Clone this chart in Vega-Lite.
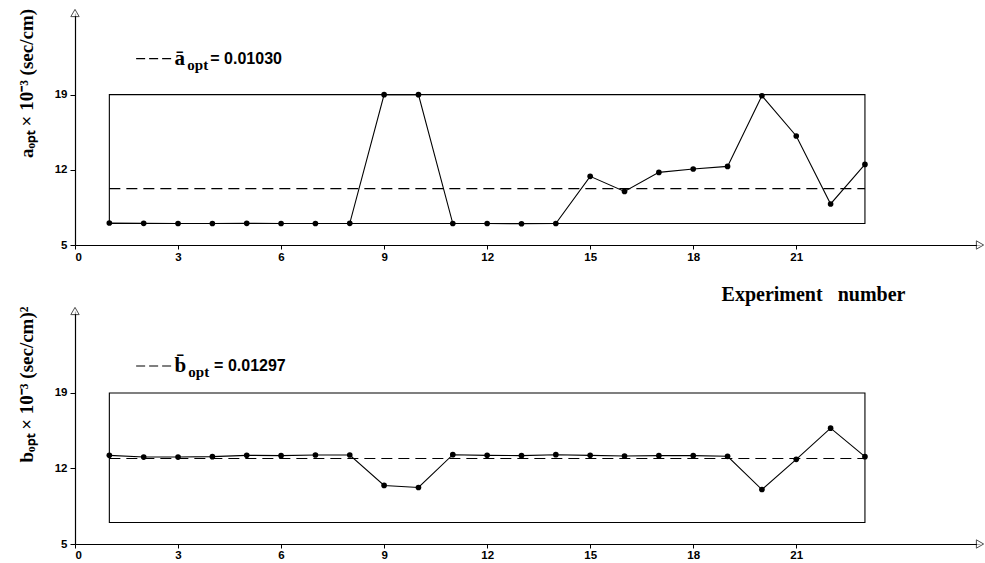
{
  "$schema": "https://vega.github.io/schema/vega-lite/v6.json",
  "background": "white",
  "padding": {"left": 17, "top": 7, "right": 0, "bottom": 0},
  "bounds": "flush",
  "spacing": 66,
  "config": {
    "view": {"stroke": null},
    "axis": {
      "grid": false,
      "domainColor": "black",
      "domainWidth": 1.2,
      "tickColor": "black",
      "labelColor": "black",
      "labelFont": "Liberation Sans",
      "labelFontWeight": "bold",
      "labelFontSize": 11.5,
      "titleColor": "black"
    }
  },
  "datasets": {
    "exp": [
      {"n": 1, "a": 7.05, "b": 13.22},
      {"n": 2, "a": 7.02, "b": 13.06},
      {"n": 3, "a": 7.0, "b": 13.06},
      {"n": 4, "a": 7.0, "b": 13.1},
      {"n": 5, "a": 7.02, "b": 13.22},
      {"n": 6, "a": 7.0, "b": 13.19},
      {"n": 7, "a": 7.0, "b": 13.25},
      {"n": 8, "a": 7.02, "b": 13.25},
      {"n": 9, "a": 19.0, "b": 10.43},
      {"n": 10, "a": 19.0, "b": 10.24},
      {"n": 11, "a": 7.0, "b": 13.28},
      {"n": 12, "a": 7.0, "b": 13.22},
      {"n": 13, "a": 6.98, "b": 13.19},
      {"n": 14, "a": 7.0, "b": 13.28},
      {"n": 15, "a": 11.39, "b": 13.22},
      {"n": 16, "a": 9.99, "b": 13.16},
      {"n": 17, "a": 11.76, "b": 13.19},
      {"n": 18, "a": 12.08, "b": 13.19},
      {"n": 19, "a": 12.32, "b": 13.13},
      {"n": 20, "a": 18.9, "b": 10.05},
      {"n": 21, "a": 15.15, "b": 12.85},
      {"n": 22, "a": 8.82, "b": 15.74},
      {"n": 23, "a": 12.5, "b": 13.1}
    ],
    "boxA": [{"x1": 1, "x2": 23, "lo": 7, "hi": 19, "mean": 10.25, "ax": 0, "ay": 26.6, "bx": 26.35, "by": 5}],
    "boxB": [{"x1": 1, "x2": 23, "lo": 7, "hi": 19, "mean": 12.92, "ax": 0, "ay": 26.6, "bx": 26.35, "by": 5}],
    "legA": [{"d1": 1.78, "d2": 2.82, "y": 22.35, "sx": 2.9, "sym": "ā", "ux": 3.27, "sub": "opt", "vx": 3.94, "val": "= 0.01030"}],
    "legB": [{"d1": 1.78, "d2": 2.82, "y": 21.5, "sx": 2.9, "sym": "b̄", "ux": 3.3, "sub": "opt", "vx": 4.05, "val": "= 0.01297"}]
  },
  "vconcat": [
    {
      "width": 905,
      "height": 232,
      "layer": [
        {
          "data": {"name": "boxA"},
          "mark": {"type": "rect", "fill": null, "stroke": "black", "strokeWidth": 1.1},
          "encoding": {
            "x": {"field": "x1", "type": "quantitative", "scale": {"domain": [0, 26.35], "nice": false, "zero": false},
              "axis": {"values": [0, 3, 6, 9, 12, 15, 18, 21], "tickSize": 4, "labelPadding": 2, "title": "Experiment\u00a0\u00a0\u00a0number",
                "titleFont": "Liberation Serif", "titleFontSize": 20, "titleFontWeight": "bold", "titleX": 738, "titleY": 49, "titleBaseline": "middle"}},
            "x2": {"field": "x2"},
            "y": {"field": "lo", "type": "quantitative", "scale": {"domain": [5, 26.6], "nice": false, "zero": false},
              "axis": {"values": [5, 12, 19], "tickSize": 5, "labelPadding": 3, "title": "a\u2092\u209a\u209c × 10⁻³ (sec/cm)",
                "titleFont": "Liberation Serif", "titleFontSize": 19, "titleFontWeight": "bold", "titleY": 70, "titlePadding": 18}},
            "y2": {"field": "hi"}
          }
        },
        {
          "data": {"name": "boxA"},
          "mark": {"type": "rule", "strokeDash": [11, 6], "strokeWidth": 1.1, "color": "black"},
          "encoding": {"x": {"field": "x1", "type": "quantitative"}, "x2": {"field": "x2"}, "y": {"field": "mean", "type": "quantitative"}}
        },
        {
          "data": {"name": "exp"},
          "mark": {"type": "line", "color": "black", "strokeWidth": 1.1, "point": {"filled": true, "color": "black", "size": 32}},
          "encoding": {"x": {"field": "n", "type": "quantitative"}, "y": {"field": "a", "type": "quantitative"}}
        },
        {
          "data": {"name": "boxA"},
          "mark": {"type": "point", "shape": "triangle-up", "size": 70, "filled": true, "fill": "white", "stroke": "black", "strokeWidth": 1},
          "encoding": {"x": {"field": "ax", "type": "quantitative"}, "y": {"field": "ay", "type": "quantitative"}}
        },
        {
          "data": {"name": "boxA"},
          "mark": {"type": "point", "shape": "triangle-right", "size": 70, "filled": true, "fill": "white", "stroke": "black", "strokeWidth": 1},
          "encoding": {"x": {"field": "bx", "type": "quantitative"}, "y": {"field": "by", "type": "quantitative"}}
        },
        {
          "data": {"name": "legA"},
          "mark": {"type": "rule", "strokeDash": [9, 4], "strokeWidth": 1.1, "color": "black"},
          "encoding": {"x": {"field": "d1", "type": "quantitative"}, "x2": {"field": "d2"}, "y": {"field": "y", "type": "quantitative"}}
        },
        {
          "data": {"name": "legA"},
          "mark": {"type": "text", "align": "left", "baseline": "middle", "font": "Liberation Serif", "fontWeight": "bold", "fontSize": 21, "color": "black"},
          "encoding": {"x": {"field": "sx", "type": "quantitative"}, "y": {"field": "y", "type": "quantitative"}, "text": {"field": "sym"}}
        },
        {
          "data": {"name": "legA"},
          "mark": {"type": "text", "align": "left", "baseline": "middle", "font": "Liberation Serif", "fontWeight": "bold", "fontSize": 15, "dy": 6, "color": "black"},
          "encoding": {"x": {"field": "ux", "type": "quantitative"}, "y": {"field": "y", "type": "quantitative"}, "text": {"field": "sub"}}
        },
        {
          "data": {"name": "legA"},
          "mark": {"type": "text", "align": "left", "baseline": "middle", "font": "Liberation Sans", "fontWeight": "bold", "fontSize": 16, "color": "black"},
          "encoding": {"x": {"field": "vx", "type": "quantitative"}, "y": {"field": "y", "type": "quantitative"}, "text": {"field": "val"}}
        }
      ]
    },
    {
      "width": 905,
      "height": 233,
      "layer": [
        {
          "data": {"name": "boxB"},
          "mark": {"type": "rect", "fill": null, "stroke": "black", "strokeWidth": 1.1},
          "encoding": {
            "x": {"field": "x1", "type": "quantitative", "scale": {"domain": [0, 26.35], "nice": false, "zero": false},
              "axis": {"values": [0, 3, 6, 9, 12, 15, 18, 21], "tickSize": 4, "labelPadding": 1, "title": null}},
            "x2": {"field": "x2"},
            "y": {"field": "lo", "type": "quantitative", "scale": {"domain": [5, 26.6], "nice": false, "zero": false},
              "axis": {"values": [5, 12, 19], "tickSize": 5, "labelPadding": 3, "title": "b\u2092\u209a\u209c × 10⁻³ (sec/cm)²",
                "titleFont": "Liberation Serif", "titleFontSize": 19, "titleFontWeight": "bold", "titleY": 73, "titlePadding": 18}},
            "y2": {"field": "hi"}
          }
        },
        {
          "data": {"name": "boxB"},
          "mark": {"type": "rule", "strokeDash": [11, 6], "strokeWidth": 1.1, "color": "black"},
          "encoding": {"x": {"field": "x1", "type": "quantitative"}, "x2": {"field": "x2"}, "y": {"field": "mean", "type": "quantitative"}}
        },
        {
          "data": {"name": "exp"},
          "mark": {"type": "line", "color": "black", "strokeWidth": 1.1, "point": {"filled": true, "color": "black", "size": 32}},
          "encoding": {"x": {"field": "n", "type": "quantitative"}, "y": {"field": "b", "type": "quantitative"}}
        },
        {
          "data": {"name": "boxB"},
          "mark": {"type": "point", "shape": "triangle-up", "size": 70, "filled": true, "fill": "white", "stroke": "black", "strokeWidth": 1},
          "encoding": {"x": {"field": "ax", "type": "quantitative"}, "y": {"field": "ay", "type": "quantitative"}}
        },
        {
          "data": {"name": "boxB"},
          "mark": {"type": "point", "shape": "triangle-right", "size": 70, "filled": true, "fill": "white", "stroke": "black", "strokeWidth": 1},
          "encoding": {"x": {"field": "bx", "type": "quantitative"}, "y": {"field": "by", "type": "quantitative"}}
        },
        {
          "data": {"name": "legB"},
          "mark": {"type": "rule", "strokeDash": [9, 4], "strokeWidth": 1.1, "color": "black"},
          "encoding": {"x": {"field": "d1", "type": "quantitative"}, "x2": {"field": "d2"}, "y": {"field": "y", "type": "quantitative"}}
        },
        {
          "data": {"name": "legB"},
          "mark": {"type": "text", "align": "left", "baseline": "middle", "font": "Liberation Serif", "fontWeight": "bold", "fontSize": 21, "color": "black"},
          "encoding": {"x": {"field": "sx", "type": "quantitative"}, "y": {"field": "y", "type": "quantitative"}, "text": {"field": "sym"}}
        },
        {
          "data": {"name": "legB"},
          "mark": {"type": "text", "align": "left", "baseline": "middle", "font": "Liberation Serif", "fontWeight": "bold", "fontSize": 15, "dy": 6, "color": "black"},
          "encoding": {"x": {"field": "ux", "type": "quantitative"}, "y": {"field": "y", "type": "quantitative"}, "text": {"field": "sub"}}
        },
        {
          "data": {"name": "legB"},
          "mark": {"type": "text", "align": "left", "baseline": "middle", "font": "Liberation Sans", "fontWeight": "bold", "fontSize": 16, "color": "black"},
          "encoding": {"x": {"field": "vx", "type": "quantitative"}, "y": {"field": "y", "type": "quantitative"}, "text": {"field": "val"}}
        }
      ]
    }
  ]
}
